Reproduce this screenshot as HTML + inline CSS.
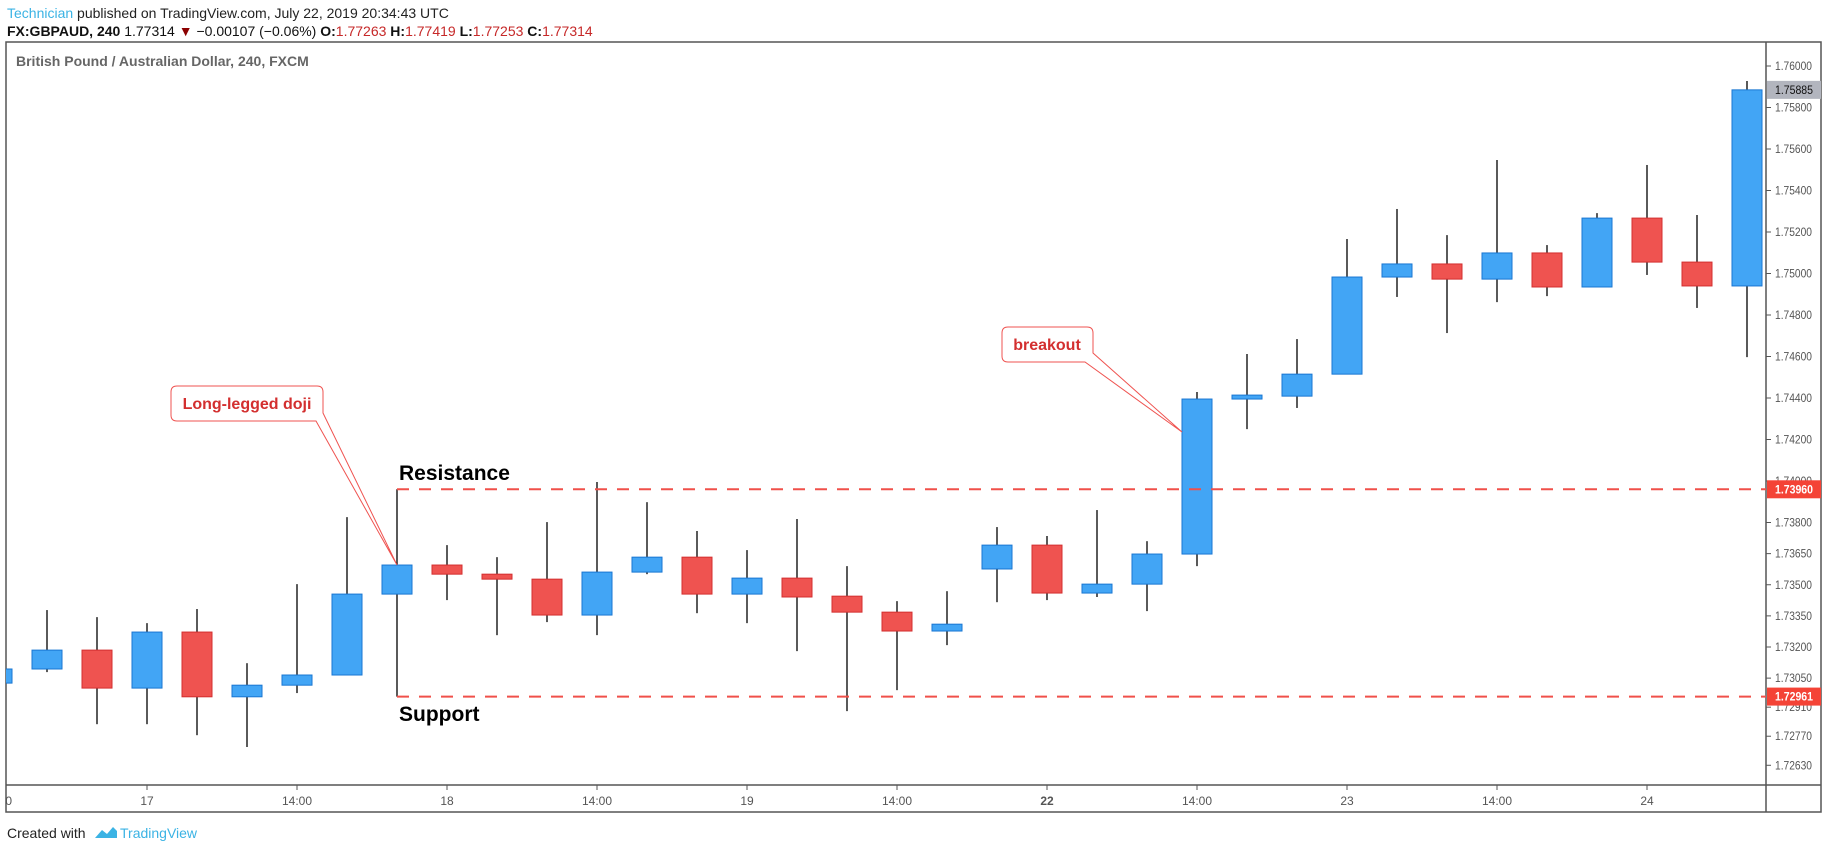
<!DOCTYPE html>
<html><head><meta charset="utf-8"><style>
body{margin:0;background:#fff;width:1828px;height:849px;overflow:hidden;font-family:"Liberation Sans",sans-serif}
svg{display:block}
</style></head><body>
<svg id="chart" width="1828" height="849" xmlns="http://www.w3.org/2000/svg">
<defs><clipPath id="plot"><rect x="6" y="42" width="1760" height="743"/></clipPath>
<clipPath id="taxis"><rect x="6" y="785" width="1760" height="27"/></clipPath></defs>
<text x="7" y="18" font-size="14" fill="#222"><tspan fill="#3bb3e4">Technician</tspan> published on TradingView.com, July 22, 2019 20:34:43 UTC</text>
<text x="7" y="36" font-size="14" fill="#111"><tspan font-weight="bold">FX:GBPAUD, 240</tspan> 1.77314 <tspan fill="#8b0000">▼</tspan> −0.00107 (−0.06%) <tspan font-weight="bold">O:</tspan><tspan fill="#c62828">1.77263</tspan> <tspan font-weight="bold">H:</tspan><tspan fill="#c62828">1.77419</tspan> <tspan font-weight="bold">L:</tspan><tspan fill="#c62828">1.77253</tspan> <tspan font-weight="bold">C:</tspan><tspan fill="#c62828">1.77314</tspan></text>
<rect x="6" y="42" width="1815" height="770" fill="none" stroke="#555" stroke-width="1.5"/>
<line x1="1766" y1="42" x2="1766" y2="812" stroke="#555" stroke-width="1.5"/>
<line x1="6" y1="785" x2="1821" y2="785" stroke="#555" stroke-width="1.5"/>
<text x="16" y="66" font-size="14" font-weight="bold" fill="#666">British Pound / Australian Dollar, 240, FXCM</text>
<g id="ticks"></g>
<g id="times" clip-path="url(#taxis)"></g>
<g id="candles" clip-path="url(#plot)"></g>
<g id="annot"></g>
<g id="labels"></g>
<text x="7" y="838" font-size="14" fill="#222">Created with</text>
<path d="M95,838 l7,-8 l5,4 l6,-7 l4,4 v7 z" fill="#3bb3e4"/>
<text x="120" y="838" font-size="14" fill="#3bb3e4">TradingView</text>
</svg>
<script>
const opens  =[1.73026,1.73094,1.73185,1.73002,1.73272,1.72960,1.73016,1.73065,1.73455,1.73595,1.73551,1.73527,1.73354,1.73561,1.73633,1.73455,1.73532,1.73445,1.73368,1.73277,1.73576,1.73691,1.73460,1.73503,1.73648,1.74395,1.74409,1.74515,1.74983,1.75046,1.74973,1.75099,1.74935,1.75267,1.75055,1.74940];
const highs  =[1.73094,1.73378,1.73344,1.73315,1.73383,1.73122,1.73503,1.73826,1.73960,1.73691,1.73633,1.73802,1.73995,1.73898,1.73759,1.73667,1.73817,1.73590,1.73421,1.73469,1.73778,1.73735,1.73860,1.73710,1.74429,1.74612,1.74684,1.75166,1.75311,1.75185,1.75547,1.75137,1.75291,1.75523,1.75282,1.75928];
const lows   =[1.73026,1.73079,1.72828,1.72828,1.72775,1.72718,1.72978,1.73065,1.72961,1.73426,1.73257,1.73320,1.73257,1.73551,1.73363,1.73315,1.73180,1.72891,1.72992,1.73209,1.73416,1.73426,1.73441,1.73373,1.73590,1.74250,1.74352,1.74515,1.74887,1.74713,1.74862,1.74891,1.74935,1.74993,1.74834,1.74597];
const closes =[1.73094,1.73185,1.73002,1.73272,1.72960,1.73016,1.73065,1.73455,1.73595,1.73551,1.73527,1.73354,1.73561,1.73633,1.73455,1.73532,1.73441,1.73368,1.73277,1.73310,1.73691,1.73460,1.73503,1.73648,1.74395,1.74414,1.74515,1.74983,1.75046,1.74973,1.75099,1.74935,1.75267,1.75055,1.74940,1.75885];
const priceTicks=[1.76,1.758,1.756,1.754,1.752,1.75,1.748,1.746,1.744,1.742,1.74,1.738,1.7365,1.735,1.7335,1.732,1.7305,1.7291,1.7277,1.7263];
const timeIdx=[0,3,6,9,12,15,18,21,24,27,30,33];
const timeLabels=["20:00","17","14:00","18","14:00","19","14:00","22","14:00","23","14:00","24"];
const resistance=1.7396, support=1.72961, lastPrice=1.75885, levelStart=8;
const NS="http://www.w3.org/2000/svg";
function y(p){return 66+(1.76-p)*20750;}
function x(i){return -3+50*i;}
function mk(t,a,parent){const e=document.createElementNS(NS,t);for(const k in a)e.setAttribute(k,a[k]);parent.appendChild(e);return e;}
const cg=document.getElementById('candles');
for(let i=0;i<opens.length;i++){
  const up=closes[i]>=opens[i];
  const w=mk('line',{x1:x(i),x2:x(i),y1:y(highs[i]),y2:y(lows[i]),stroke:'#000','stroke-width':1.3},cg);
  
  
  const top=y(Math.max(opens[i],closes[i])),bot=y(Math.min(opens[i],closes[i]));
  const b=mk('rect',{x:x(i)-15,y:top,width:30,height:Math.max(1,bot-top),fill:up?'#42a5f5':'#ef5350',stroke:up?'#1976d2':'#d32f2f','stroke-width':1},cg);
  
  
}
const tg=document.getElementById('ticks');
priceTicks.forEach(p=>{
  const l=mk('line',{x1:1766,x2:1771,y1:y(p),y2:y(p),stroke:'#555'},tg);
  
  
  const t=mk('text',{x:1775,y:y(p)+4,'font-size':12,fill:'#555',textLength:37,lengthAdjust:'spacingAndGlyphs'},tg);t.textContent=p.toFixed(5);
  
  
});
const tm=document.getElementById('times');
timeIdx.forEach((ci,k)=>{
  const l=mk('line',{x1:x(ci),x2:x(ci),y1:785,y2:790,stroke:'#555'},tm);
  
  
  const t=mk('text',{x:x(ci),y:805,'font-size':12,fill:'#555','text-anchor':'middle','font-weight':timeLabels[k]==='22'?'bold':'normal'},tm);t.textContent=timeLabels[k];
  
  
});
const ag=document.getElementById('annot');
[[resistance,'resistance-line'],[support,'support-line']].forEach(([p,n])=>{
  const l=mk('line',{x1:x(levelStart),x2:1766,y1:y(p),y2:y(p),stroke:'#f0504a','stroke-width':2,'stroke-dasharray':'12 10'},ag);
  
  
});
let t1=mk('text',{x:399,y:480,'font-size':21,'font-weight':'bold',fill:'#000'},ag);t1.textContent='Resistance';


let t2=mk('text',{x:399,y:721,'font-size':21,'font-weight':'bold',fill:'#000'},ag);t2.textContent='Support';


let c1=mk('path',{d:'M177,386 H317 Q323,386 323,392 V413 L397,565 L316,421 H177 Q171,421 171,415 V392 Q171,386 177,386 Z',fill:'#fff',stroke:'#ef5350','stroke-width':1},ag);


let ct1=mk('text',{x:247,y:409,'font-size':16,'font-weight':'bold',fill:'#d32f2f','text-anchor':'middle'},ag);ct1.textContent='Long-legged doji';


let c2=mk('path',{d:'M1008,327 H1087 Q1093,327 1093,333 V353 L1182,432 L1085,362 H1008 Q1002,362 1002,356 V333 Q1002,327 1008,327 Z',fill:'#fff',stroke:'#ef5350','stroke-width':1},ag);


let ct2=mk('text',{x:1047,y:350,'font-size':16,'font-weight':'bold',fill:'#d32f2f','text-anchor':'middle'},ag);ct2.textContent='breakout';


const lg=document.getElementById('labels');
[[lastPrice,'#b2b5be','#111','last-price-label'],[resistance,'#f44336','#fff','resistance-price-label'],[support,'#f44336','#fff','support-price-label']].forEach(([p,bg,fg,n])=>{
  const r=mk('rect',{x:1767,y:y(p)-9,width:54,height:18,fill:bg},lg);
  
  
  const t=mk('text',{x:1775,y:y(p)+4,'font-size':12,fill:fg,'font-weight':fg==='#fff'?'bold':'normal',textLength:38,lengthAdjust:'spacingAndGlyphs'},lg);t.textContent=p.toFixed(5);
  
  
});
</script>
</body></html>
